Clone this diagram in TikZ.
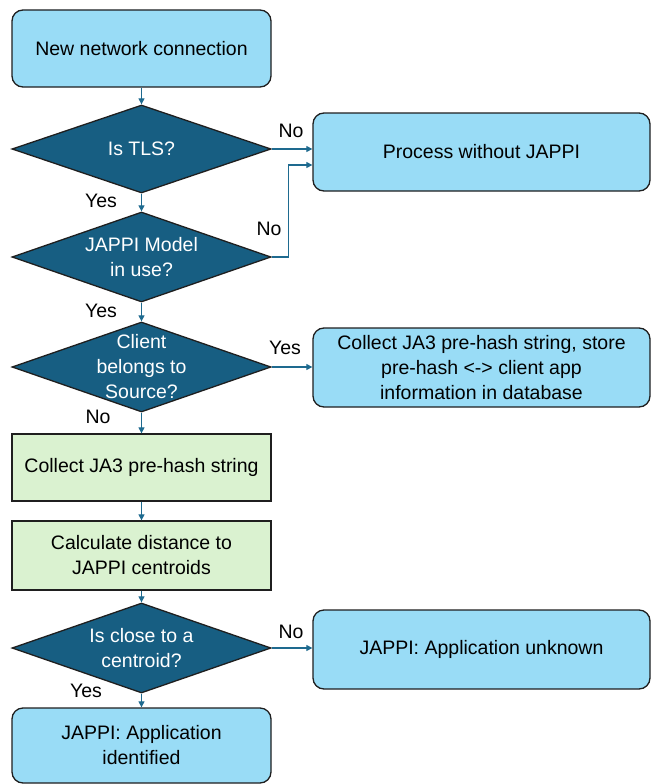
\documentclass[tikz,border=0pt]{standalone}
\usepackage{fontspec}
\setmainfont{Liberation Sans}
\usetikzlibrary{shapes.geometric,arrows.meta,calc}
\definecolor{lblue}{HTML}{99DCF6}
\definecolor{dblue}{HTML}{175E82}
\definecolor{lgreen}{HTML}{DAF2D0}
\definecolor{arr}{HTML}{1E6A8F}
\begin{document}
\begin{tikzpicture}[x=1pt,y=-1pt,
  txt/.style={font=\fontsize{19.5}{25}\selectfont, align=center},
  rbox/.style={txt, draw=black!88, line width=1.3pt, rounded corners=11pt, fill=lblue, minimum width=259pt, inner sep=0pt},
  wbox/.style={rbox, minimum width=337pt},
  gbox/.style={txt, draw=black!88, line width=1.3pt, fill=lgreen, minimum width=259pt, inner sep=0pt},
  dia/.style={diamond, draw=black!88, line width=1.3pt, fill=dblue, minimum width=259pt, minimum height=90pt, inner sep=0pt},
  diatxt/.style={txt, text=white},
  lab/.style={txt},
  arrow/.style={draw=arr, line width=1.2pt, -{Triangle[length=6pt,width=6pt]}}
]
\useasboundingbox (0,0) rectangle (651,784);

\node[rbox, minimum height=77pt] (start) at (141.5,48.5) {New network connection};
\node[dia, minimum height=88pt] (tls) at (141.5,149) {};
\node[diatxt] at (tls) {Is TLS?};
\node[wbox, minimum height=78pt] (proc) at (481.5,152) {Process without JAPPI};
\node[dia] (model) at (141.5,257) {};
\node[diatxt] at (model) {JAPPI Model\\in use?};
\node[dia] (client) at (141.5,367) {};
\node[diatxt] at (client) {Client\\belongs to\\Source?};
\node[wbox, minimum height=79pt] (store) at (481.5,367.5) {Collect JA3 pre-hash string, store\\pre-hash <-> client app\\information in database};
\node[gbox, minimum height=67pt] (collect) at (141.5,467.5) {Collect JA3 pre-hash string};
\node[gbox, minimum height=69pt] (dist) at (141.5,555.5) {Calculate distance to\\JAPPI centroids};
\node[dia] (close) at (141.5,648) {};
\node[diatxt] at (close) {Is close to a\\centroid?};
\node[wbox, minimum height=79pt] (unknown) at (481.5,649.5) {JAPPI: Application unknown};
\node[rbox, minimum height=75pt] (ident) at (141.5,745.5) {JAPPI: Application\\identified};

\draw[arrow] (start.south) -- (tls.north);
\draw[arrow] (tls.east) -- (tls.east -| proc.west);
\draw[arrow] (tls.south) -- (model.north);
\coordinate (bend) at ($(proc.west)+(0,13)$);
\draw[arrow] (model.east) -- ++(17,0) |- (bend);
\draw[arrow] (model.south) -- (client.north);
\draw[arrow] (client.east) -- (client.east -| store.west);
\draw[arrow] (client.south) -- (collect.north);
\draw[arrow] (collect.south) -- (dist.north);
\draw[arrow] (dist.south) -- (close.north);
\draw[arrow] (close.east) -- (close.east -| unknown.west);
\draw[arrow] (close.south) -- (ident.north);

\node[lab] (l1) at (291,131) {No};
\node[lab] (l2) at (101,201) {Yes};
\node[lab] (l3) at (269,229) {No};
\node[lab] (l4) at (101,311) {Yes};
\node[lab] (l5) at (285,348) {Yes};
\node[lab] (l6) at (98,417) {No};
\node[lab] (l7) at (291,632) {No};
\node[lab] (l8) at (86,691) {Yes};
\end{tikzpicture}
\end{document}
